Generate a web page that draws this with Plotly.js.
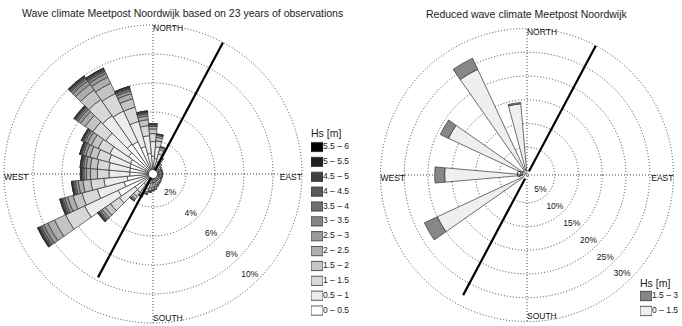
<!DOCTYPE html>
<html><head><meta charset="utf-8">
<script src="https://cdn.plot.ly/plotly-3.0.1.min.js"></script>
<style>html,body{margin:0;padding:0;background:#fff}#chart{width:682px;height:326px}</style>
</head><body><div id="chart"></div>
<script>
// ---------- DATA ----------
const directions = [0,10,20,30,40,50,60,70,80,90,100,110,120,130,140,150,160,170,180,190,200,210,220,230,240,250,260,270,280,290,300,310,320,330,340,350];
const hsLabels = ['0 – 0.5','0.5 – 1','1 – 1.5','1.5 – 2','2 – 2.5','2.5 – 3','3 – 3.5','3.5 – 4','4 – 4.5','4.5 – 5','5 – 5.5','5.5 – 6'];
const hsColors = ['#ffffff','#ececec','#d8d8d8','#c4c4c4','#adadad','#9a9a9a','#858585','#707070','#5a5a5a','#404040','#202020','#000000'];
const hs_0_05  = [0.96,0.80,0.60,0.38,0.25,0.20,0.18,0.18,0.18,0.18,0.18,0.18,0.18,0.20,0.22,0.24,0.27,0.32,0.34,0.36,0.42,0.50,0.62,1.23,2.38,1.79,1.51,1.33,1.34,1.39,1.45,1.79,2.24,2.18,1.68,1.15];
const hs_05_1  = [1.00,0.80,0.55,0.34,0.21,0.16,0.14,0.14,0.14,0.14,0.14,0.14,0.14,0.16,0.18,0.19,0.23,0.28,0.31,0.34,0.40,0.50,0.64,1.32,2.55,1.92,1.62,1.43,1.44,1.49,1.56,1.92,2.40,2.34,1.80,1.23];
const hs_1_15  = [0.55,0.42,0.30,0.17,0.10,0.07,0.06,0.06,0.06,0.06,0.06,0.06,0.06,0.07,0.08,0.09,0.11,0.13,0.16,0.18,0.21,0.27,0.36,0.75,1.45,1.09,0.91,0.80,0.81,0.85,0.89,1.09,1.36,1.33,1.02,0.70];
const hs_15_2  = [0.32,0.24,0.15,0.08,0.04,0.02,0.02,0.02,0.02,0.02,0.02,0.02,0.02,0.02,0.02,0.03,0.04,0.05,0.07,0.08,0.11,0.14,0.20,0.44,0.85,0.64,0.54,0.48,0.48,0.50,0.52,0.64,0.80,0.78,0.60,0.41];
const hs_2_25  = [0.18,0.13,0.07,0.03,0,0,0,0,0,0,0,0,0,0,0,0,0,0.02,0.02,0.03,0.04,0.06,0.10,0.26,0.51,0.38,0.32,0.28,0.29,0.30,0.31,0.38,0.48,0.47,0.36,0.25];
const hs_25_3  = [0.10,0.07,0.03,0,0,0,0,0,0,0,0,0,0,0,0,0,0,0,0,0.01,0.02,0.03,0.05,0.15,0.30,0.22,0.19,0.17,0.17,0.18,0.18,0.22,0.28,0.27,0.21,0.14];
const hs_3_35  = [0.05,0.03,0,0,0,0,0,0,0,0,0,0,0,0,0,0,0,0,0,0,0,0,0.02,0.10,0.19,0.14,0.12,0.10,0.10,0.11,0.12,0.14,0.18,0.17,0.13,0.09];
const hs_35_4  = [0.03,0.01,0,0,0,0,0,0,0,0,0,0,0,0,0,0,0,0,0,0,0,0,0.01,0.06,0.12,0.09,0.08,0.07,0.07,0.07,0.08,0.09,0.11,0.11,0.08,0.06];
const hs_4_45  = [0.01,0,0,0,0,0,0,0,0,0,0,0,0,0,0,0,0,0,0,0,0,0,0,0.04,0.08,0.06,0.04,0.04,0.04,0.04,0.04,0.06,0.07,0.07,0.05,0.04];
const hs_45_5  = [0,0,0,0,0,0,0,0,0,0,0,0,0,0,0,0,0,0,0,0,0,0,0,0.02,0.04,0.03,0.02,0.02,0.02,0.02,0.02,0.03,0.04,0.04,0.03,0.02];
const hs_5_55  = [0,0,0,0,0,0,0,0,0,0,0,0,0,0,0,0,0,0,0,0,0,0,0,0.01,0.03,0.02,0.01,0.01,0.01,0.01,0.01,0.02,0.02,0.02,0.02,0.01];
const hs_55_6  = [0,0,0,0,0,0,0,0,0,0,0,0,0,0,0,0,0,0,0,0,0,0,0,0.01,0.02,0.01,0.01,0.01,0.01,0.01,0.01,0.01,0.02,0.02,0.01,0];
const leftRadialTicks = [2,4,6,8,10];
const leftRadialText = ['2%','4%','6%','8%','10%'];

const redDirections = [240,270,300,330,350];
const redLabels = ['0 – 1.5','1.5 – 3'];
const redColors = ['#efefef','#878787'];
const red_0_15 = [20.0,16.5,17.4,23.7,14.2];
const red_15_3 = [3.0,2.1,1.9,2.6,0.3];
const rightRadialTicks = [5,10,15,20,25,30];
const rightRadialText = ['5%','10%','15%','20%','25%','30%'];

const compassTheta = [0,90,180,270];
const compassText = ['NORTH','EAST','SOUTH','WEST'];
const coastTheta = [28,208];
const coastLeftR = [10,7.8];
const coastRightR = [30,27.8];

// ---------- TRACES ----------
const FONT = '"Liberation Sans", Arial, Helvetica, sans-serif';
const TXT = '#222';
const hsSeries = [hs_0_05,hs_05_1,hs_1_15,hs_15_2,hs_2_25,hs_25_3,hs_3_35,hs_35_4,hs_4_45,hs_45_5,hs_5_55,hs_55_6];
const traces = [];
hsSeries.forEach((vals,i)=>{
  traces.push({type:'barpolar', subplot:'polar', r:vals, theta:directions, width:10,
    name:hsLabels[i], showlegend:false, hoverinfo:'skip',
    marker:{color:hsColors[i], line:{color:'#333', width:0.7}}});
});
[red_0_15, red_15_3].forEach((vals,i)=>{
  traces.push({type:'barpolar', subplot:'polar2', r:vals, theta:redDirections, width:10,
    name:redLabels[i], showlegend:false, hoverinfo:'skip',
    marker:{color:redColors[i], line:{color:'#333', width:0.7}}});
});
// coast lines
traces.push({type:'scatterpolar', subplot:'polar', mode:'lines', r:coastLeftR, theta:coastTheta,
  line:{color:'#000', width:2.2}, showlegend:false, hoverinfo:'skip'});
traces.push({type:'scatterpolar', subplot:'polar2', mode:'lines', r:coastRightR, theta:coastTheta,
  line:{color:'#000', width:2.2}, showlegend:false, hoverinfo:'skip'});
// compass labels
const compPos = ['bottom right','bottom left','top right','bottom right'];
traces.push({type:'scatterpolar', subplot:'polar', mode:'text', r:[10,10,10,10], theta:compassTheta, text:compassText,
  textposition:compPos, textfont:{family:FONT,size:8.5,color:'#111'}, showlegend:false, hoverinfo:'skip', cliponaxis:false});
traces.push({type:'scatterpolar', subplot:'polar2', mode:'text', r:[30,30,30,30], theta:compassTheta, text:compassText,
  textposition:compPos, textfont:{family:FONT,size:8.5,color:'#111'}, showlegend:false, hoverinfo:'skip', cliponaxis:false});
// radial labels
traces.push({type:'scatterpolar', subplot:'polar', mode:'text', r:leftRadialTicks, theta:leftRadialTicks.map(()=>135), text:leftRadialText,
  textposition:'top left', textfont:{family:FONT,size:8.5,color:'#111'}, showlegend:false, hoverinfo:'skip', cliponaxis:false});
traces.push({type:'scatterpolar', subplot:'polar2', mode:'text', r:rightRadialTicks, theta:rightRadialTicks.map(()=>135), text:rightRadialText,
  textposition:'top left', textfont:{family:FONT,size:8.5,color:'#111'}, showlegend:false, hoverinfo:'skip', cliponaxis:false});
traces.push({type:'scatterpolar', subplot:'polar2', mode:'text', r:[0], theta:[270], text:['0%'],
  textposition:'middle center', textfont:{family:FONT,size:8.5,color:'#111'}, showlegend:false, hoverinfo:'skip', cliponaxis:false});

// legends (as small cartesian panels); row index 0 = lowest class at the bottom
const legIdx = hsLabels.map((_,i)=>i);
traces.push({type:'bar', orientation:'h', xaxis:'x', yaxis:'y', y:legIdx, x:hsLabels.map(()=>1), base:0, width:0.62,
  marker:{color:hsColors, line:{color:'#333', width:0.8}}, showlegend:false, hoverinfo:'skip'});
traces.push({type:'scatter', mode:'text', xaxis:'x', yaxis:'y', y:legIdx, x:hsLabels.map(()=>1), text:hsLabels,
  textposition:'middle right', textfont:{family:FONT,size:8.5,color:TXT}, cliponaxis:false, showlegend:false, hoverinfo:'skip'});
const redIdx = redLabels.map((_,i)=>i);
traces.push({type:'bar', orientation:'h', xaxis:'x2', yaxis:'y2', y:redIdx, x:redLabels.map(()=>1), base:0, width:0.62,
  marker:{color:redColors, line:{color:'#333', width:0.8}}, showlegend:false, hoverinfo:'skip'});
traces.push({type:'scatter', mode:'text', xaxis:'x2', yaxis:'y2', y:redIdx, x:redLabels.map(()=>1), text:redLabels,
  textposition:'middle right', textfont:{family:FONT,size:8.5,color:TXT}, cliponaxis:false, showlegend:false, hoverinfo:'skip'});

// ---------- LAYOUT ----------
const W=682, H=326;
function polarCfg(cx, cy, rOuter, rMax, ticks){
  const hole = 4;
  const R = hole + (rOuter-hole)*1.01;
  return {
    domain:{x:[(cx-R)/W,(cx+R)/W], y:[(H-cy-R)/H,(H-cy+R)/H]},
    hole: hole/R, bgcolor:'#fff', barmode:'stack',
    radialaxis:{range:[0,rMax*1.01], tickvals:ticks, showticklabels:false, ticks:'', showline:false,
      showgrid:true, gridcolor:'#444', gridwidth:1, griddash:'1px,2px'},
    angularaxis:{rotation:90, direction:'clockwise', tickvals:[0,90,180,270], showticklabels:false, ticks:'',
      showline:false, showgrid:true, gridcolor:'#444', gridwidth:1, griddash:'1px,2px'}
  };
}
const hidden = {showgrid:false, zeroline:false, showticklabels:false, showline:false, ticks:'', fixedrange:true};
const layout = {
  width:W, height:H, margin:{l:0,r:0,t:0,b:0}, paper_bgcolor:'#fff', plot_bgcolor:'rgba(0,0,0,0)',
  font:{family:FONT, color:TXT}, showlegend:false, barmode:'overlay',
  polar: polarCfg(153,174,149,10,leftRadialTicks),
  polar2: polarCfg(527,175,146.5,30,rightRadialTicks),
  xaxis: Object.assign({domain:[311/W,323/W], range:[0,1]}, hidden),
  yaxis: Object.assign({domain:[(H-318)/H,(H-139.6)/H], range:[-0.5,11.5]}, hidden),
  xaxis2: Object.assign({domain:[640/W,652/W], range:[0,1]}, hidden),
  yaxis2: Object.assign({domain:[(H-318.5)/H,(H-288.5)/H], range:[-0.5,1.5]}, hidden),
  annotations:[
    {text:'Wave climate Meetpost Noordwijk based on 23 years of observations', xref:'paper', yref:'paper',
     x:20/W, y:1-13/H, xanchor:'left', yanchor:'middle', showarrow:false, font:{family:FONT,size:10.5,color:TXT}},
    {text:'Reduced wave climate Meetpost Noordwijk', xref:'paper', yref:'paper',
     x:527/W, y:1-14/H, xanchor:'center', yanchor:'middle', showarrow:false, font:{family:FONT,size:10.5,color:TXT}},
    {text:'Hs [m]', xref:'paper', yref:'paper', x:309/W, y:1-133/H, xanchor:'left', yanchor:'middle', showarrow:false,
     font:{family:FONT,size:10.5,color:TXT}},
    {text:'Hs [m]', xref:'paper', yref:'paper', x:638/W, y:1-283/H, xanchor:'left', yanchor:'middle', showarrow:false,
     font:{family:FONT,size:10.5,color:TXT}}
  ]
};
Plotly.newPlot('chart', traces, layout, {displayModeBar:false, staticPlot:true});
</script></body></html>
